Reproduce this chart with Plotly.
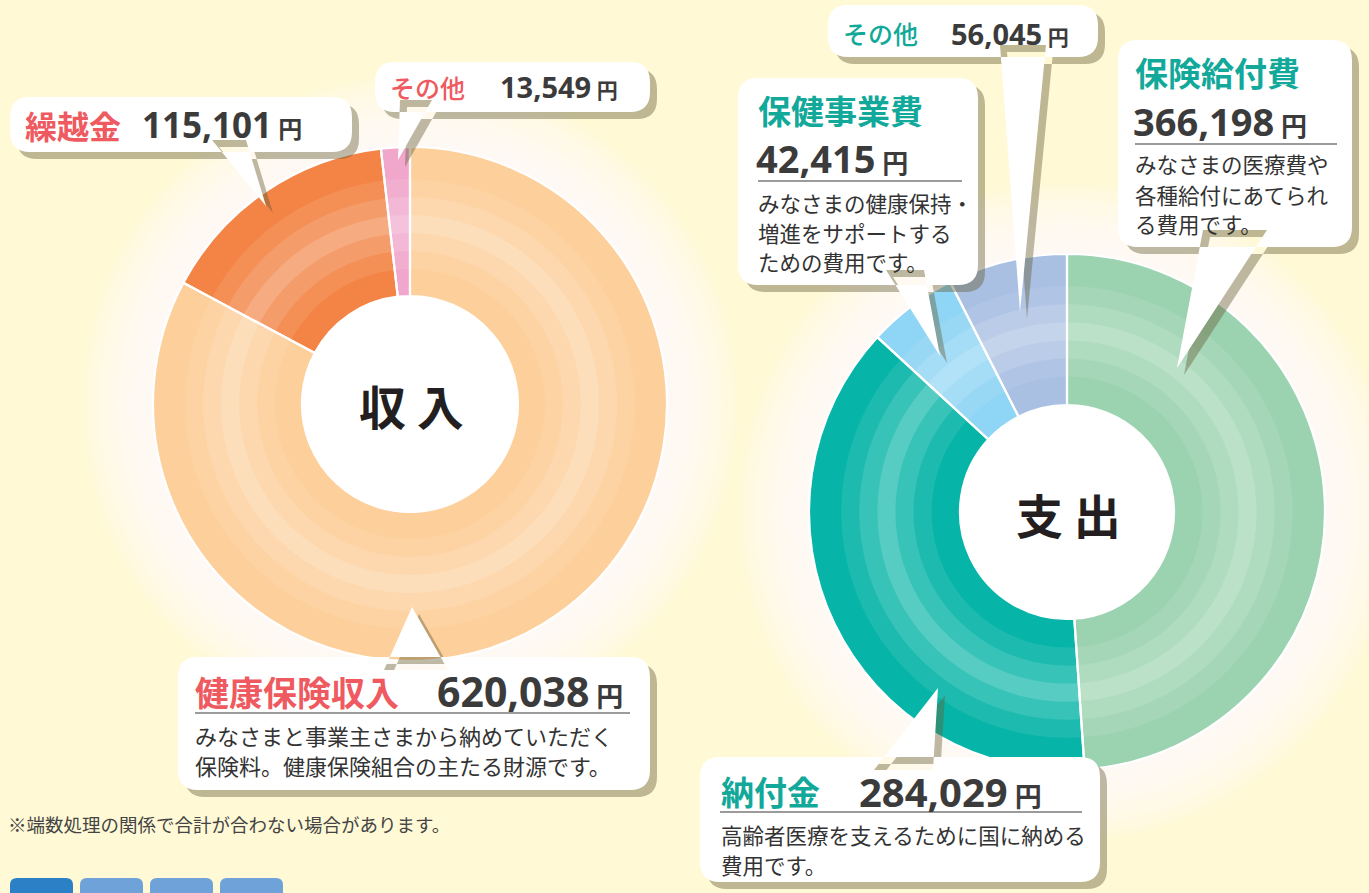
import plotly.graph_objects as go

W, H = 1369, 893
BG = "#fff9d6"
JP = "Noto Sans CJK JP"
NUM = "Open Sans, Noto Sans CJK JP"
RED = "#ee5a60"
TEAL = "#12a99a"
DARK = "#3b3b3b"

# ---------------- data ----------------
income_labels = ["健康保険収入", "繰越金", "その他"]
income_values = [620038, 115101, 13549]
income_colors = ["#fdcf9b", "#f38446", "#f0a7cb"]

expense_labels = ["保険給付費", "納付金", "保健事業費", "その他"]
expense_values = [366198, 284029, 42415, 56045]
expense_colors = ["#9bd3b0", "#07b5a8", "#8fd5f5", "#a9c0e3"]

income_value_text = ["620,038", "115,101", "13,549"]
expense_value_text = ["366,198", "284,029", "42,415", "56,045"]
unit = "円"

desc_income_main = ["みなさまと事業主さまから納めていただく", "保険料。健康保険組合の主たる財源です。"]
desc_benefit = ["みなさまの医療費や", "各種給付にあてられ", "る費用です。"]
desc_health = ["みなさまの健康保持・", "増進をサポートする", "ための費用です。"]
desc_levy = ["高齢者医療を支えるために国に納める", "費用です。"]
footnote = "※端数処理の関係で合計が合わない場合があります。"
center_income = "収 入"
center_expense = "支 出"

# ---------------- helpers ----------------
def X(x):
    return x / W


def Y(y):
    return 1 - y / H


def mix(hexc, f):
    r, g, b = int(hexc[1:3], 16), int(hexc[3:5], 16), int(hexc[5:7], 16)
    return "rgb(%d,%d,%d)" % (r + (255 - r) * f, g + (255 - g) * f, b + (255 - b) * f)


fig = go.Figure()
shapes = []
annotations = []

BANDS = [(1.00, 0.0), (0.875, 0.09), (0.805, 0.20), (0.735, 0.32),
         (0.665, 0.20), (0.595, 0.09), (0.525, 0.0)]


def add_donut(labels, values, colors, cx, cy, R, r_in):
    # soft glow behind the ring
    for d in range(70, 0, -5):
        rr = R + d
        shapes.append(dict(type="circle", xref="paper", yref="paper", layer="below",
                           x0=X(cx - rr), x1=X(cx + rr), y0=Y(cy + rr), y1=Y(cy - rr),
                           fillcolor="rgba(255,255,255,0.12)", line=dict(width=0)))
    # white centre
    shapes.append(dict(type="circle", xref="paper", yref="paper", layer="below",
                       x0=X(cx - r_in), x1=X(cx + r_in), y0=Y(cy + r_in), y1=Y(cy - r_in),
                       fillcolor="white", line=dict(width=0)))
    for frac, f in BANDS:
        rr = R * frac
        fig.add_trace(go.Pie(
            labels=labels, values=values, sort=False, direction="clockwise", rotation=0,
            hole=r_in / rr, textinfo="none", showlegend=False, hoverinfo="label+value",
            marker=dict(colors=[mix(c, f) for c in colors], line=dict(width=0)),
            domain=dict(x=[X(cx - rr), X(cx + rr)], y=[Y(cy + rr), Y(cy - rr)])))
    fig.add_trace(go.Pie(
        labels=labels, values=values, sort=False, direction="clockwise", rotation=0,
        hole=r_in / R, textinfo="none", showlegend=False, hoverinfo="skip",
        marker=dict(colors=["rgba(0,0,0,0)"] * len(values), line=dict(width=2.2, color="white")),
        domain=dict(x=[X(cx - R), X(cx + R)], y=[Y(cy + R), Y(cy - R)])))


def rrect_path(x0, y0, x1, y1, r, dx=0, dy=0):
    x0, x1, y0, y1 = x0 + dx, x1 + dx, y0 + dy, y1 + dy
    pts = [("M", x0 + r, y0), ("L", x1 - r, y0), ("Q", x1, y0, x1, y0 + r),
           ("L", x1, y1 - r), ("Q", x1, y1, x1 - r, y1), ("L", x0 + r, y1),
           ("Q", x0, y1, x0, y1 - r), ("L", x0, y0 + r), ("Q", x0, y0, x0 + r, y0)]
    s = ""
    for p in pts:
        if p[0] == "Q":
            s += "Q %.5f,%.5f %.5f,%.5f " % (X(p[1]), Y(p[2]), X(p[3]), Y(p[4]))
        else:
            s += "%s %.5f,%.5f " % (p[0], X(p[1]), Y(p[2]))
    return s + "Z"


def tri_path(pts, dx=0, dy=0):
    pts = [(x + dx, y + dy) for x, y in pts]
    a = 0
    for i in range(3):
        x1, y1 = pts[i]
        x2, y2 = pts[(i + 1) % 3]
        a += x1 * y2 - x2 * y1
    if a < 0:
        pts = pts[::-1]
    s = "M %.5f,%.5f " % (X(pts[0][0]), Y(pts[0][1]))
    for x, y in pts[1:]:
        s += "L %.5f,%.5f " % (X(x), Y(y))
    return s + "Z"


def callout(box, tri, r=20, sh=(7, 7)):
    x0, y0, x1, y1 = box
    shadow = rrect_path(x0, y0, x1, y1, r, *sh) + " " + tri_path(tri, *sh)
    white = rrect_path(x0, y0, x1, y1, r) + " " + tri_path(tri)
    shapes.append(dict(type="path", xref="paper", yref="paper", layer="above", path=shadow,
                       fillcolor="rgba(100,92,52,0.42)", line=dict(width=0)))
    shapes.append(dict(type="path", xref="paper", yref="paper", layer="above", path=white,
                       fillcolor="white", line=dict(width=0)))


def text(x, y, s, size, color, weight=400, family=JP, anchor="left"):
    annotations.append(dict(x=X(x), y=Y(y), xref="paper", yref="paper", text=s, showarrow=False,
                            xanchor=anchor, yanchor="middle",
                            font=dict(family=family, size=size, color=color, weight=weight)))


def amount(x, y, num, size, usize):
    s = "%s<span style='font-size:%dpx'> %s</span>" % (num, usize, unit)
    text(x, y, s, size, DARK, 700, NUM)


def rule(x0, x1, y):
    shapes.append(dict(type="line", xref="paper", yref="paper", layer="above",
                       x0=X(x0), x1=X(x1), y0=Y(y), y1=Y(y), line=dict(color="#7a7a7a", width=1.5)))


# ---------------- donuts ----------------
add_donut(income_labels, income_values, income_colors, 410, 404, 257, 108)
add_donut(expense_labels, expense_values, expense_colors, 1067, 512, 258, 107)

text(411, 404, center_income, 47, "#231f20", 700, anchor="center")
text(1068, 513, center_expense, 47, "#231f20", 700, anchor="center")

# ---------------- callouts: income ----------------
# その他 (income)
callout((375, 62, 650, 112), [(400, 100), (432, 100), (398, 160)])
text(388, 87, income_labels[2], 25, RED, 500)
amount(498, 87, income_value_text[2], 29, 21)

# 繰越金
callout((10, 97, 352, 152), [(212, 140), (246, 140), (266, 206)])
text(23, 125, income_labels[1], 32, RED, 700)
amount(140, 125, income_value_text[1], 35, 24)

# 健康保険収入
callout((178, 657, 650, 790), [(384, 670), (448, 670), (412, 607)])
text(193, 691, income_labels[0], 34, RED, 700)
amount(435, 691, income_value_text[0], 41, 27)
rule(195, 630, 713)
text(193, 735, desc_income_main[0], 22, "#333333")
text(193, 765, desc_income_main[1], 22, "#333333")

# ---------------- callouts: expense ----------------
# その他 (expense)
callout((828, 5, 1098, 57), [(1000, 45), (1046, 45), (1020, 312)])
text(841, 33, expense_labels[3], 25, TEAL, 500)
amount(949, 33, expense_value_text[3], 29, 21)

# 保険給付費
callout((1118, 40, 1352, 247), [(1203, 230), (1267, 230), (1177, 368)])
text(1133, 72, expense_labels[0], 33, TEAL, 700)
amount(1131, 121, expense_value_text[0], 38, 26)
rule(1135, 1337, 144)
text(1133, 164, desc_benefit[0], 21.5, "#333333")
text(1133, 194, desc_benefit[1], 21.5, "#333333")
text(1133, 224, desc_benefit[2], 21.5, "#333333")

# 保健事業費
callout((738, 78, 978, 285), [(886, 270), (924, 270), (940, 356)])
text(756, 110, expense_labels[2], 33, TEAL, 700)
amount(754, 158, expense_value_text[2], 38, 26)
rule(758, 962, 181)
text(756, 203, desc_health[0], 21.5, "#333333")
text(756, 232, desc_health[1], 21.5, "#333333")
text(756, 261, desc_health[2], 21.5, "#333333")

# 納付金
callout((700, 757, 1100, 882), [(874, 770), (933, 770), (938, 688)])
text(719, 791, expense_labels[1], 33, TEAL, 700)
amount(857, 791, expense_value_text[1], 40, 27)
rule(720, 1082, 812)
text(719, 834, desc_levy[0], 21.5, "#333333")
text(719, 864, desc_levy[1], 21.5, "#333333")

# footnote
text(6, 824, footnote, 18.5, "#444444")

# section heading tabs cut off at the bottom edge
for x0, col in [(10, "#2b80c6"), (80, "#6ea2d8"), (150, "#6ea2d8"), (220, "#6ea2d8")]:
    shapes.append(dict(type="path", xref="paper", yref="paper", layer="above",
                       path=rrect_path(x0, 878, x0 + 63, 930, 7), fillcolor=col, line=dict(width=0)))

fig.update_layout(
    width=W, height=H,
    margin=dict(l=0, r=0, t=0, b=0),
    paper_bgcolor=BG, plot_bgcolor=BG,
    shapes=shapes, annotations=annotations,
    showlegend=False,
    font=dict(family=JP),
)

fig.write_html("out.html",
               config={"displayModeBar": False},
               post_script="document.body.style.margin='0';document.body.style.background='%s';" % BG)
